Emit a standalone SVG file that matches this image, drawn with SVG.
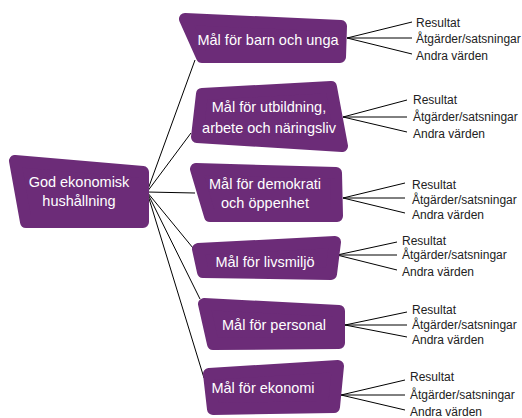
<svg xmlns="http://www.w3.org/2000/svg" width="522" height="418" viewBox="0 0 522 418">
<style>
.box{fill:#6c2c78;stroke:#6c2c78;stroke-width:12;stroke-linejoin:round}
.nt{font-family:"Liberation Sans",Arial,sans-serif;font-size:14.5px;fill:#ffffff;text-anchor:middle}
.lt{font-family:"Liberation Sans",Arial,sans-serif;font-size:12px;fill:#222222}
.con line{stroke:#000000;stroke-width:1;fill:none}
</style>
<rect width="522" height="418" fill="#ffffff"/>
<g id="connectors" class="con">
<line x1="147" y1="192" x2="195" y2="60"/>
<line x1="147" y1="192" x2="191" y2="133"/>
<line x1="147" y1="192" x2="195" y2="193"/>
<line x1="147" y1="192" x2="193" y2="248"/>
<line x1="147" y1="192" x2="200" y2="299"/>
<line x1="147" y1="192" x2="204" y2="378"/>
<line x1="347" y1="38" x2="412" y2="22"/>
<line x1="347" y1="38" x2="412" y2="38"/>
<line x1="347" y1="38" x2="412" y2="54"/>
<line x1="343" y1="117" x2="407" y2="100"/>
<line x1="343" y1="117" x2="407" y2="117"/>
<line x1="343" y1="117" x2="407" y2="132"/>
<line x1="343" y1="198" x2="405" y2="183"/>
<line x1="343" y1="198" x2="405" y2="198"/>
<line x1="343" y1="198" x2="405" y2="213"/>
<line x1="337" y1="255" x2="397" y2="242"/>
<line x1="337" y1="255" x2="397" y2="255"/>
<line x1="337" y1="255" x2="397" y2="270"/>
<line x1="345" y1="325" x2="407" y2="312"/>
<line x1="345" y1="325" x2="407" y2="325"/>
<line x1="345" y1="325" x2="407" y2="337"/>
<line x1="341" y1="395" x2="405" y2="380"/>
<line x1="341" y1="395" x2="405" y2="395"/>
<line x1="341" y1="395" x2="405" y2="410"/>
</g>
<g id="root">
<polygon class="box" points="15,161 143,172 143,222 26,222"/>
<text class="nt" x="79" y="187">God ekonomisk</text>
<text class="nt" x="79" y="206">hushållning</text>
</g>
<g id="n1">
<polygon class="box" points="185,19 341,26 340,57 202,57"/>
<text class="nt" x="268" y="45">Mål för barn och unga</text>
<text class="lt" x="416" y="27">Resultat</text>
<text class="lt" x="416" y="43">Åtgärder/satsningar</text>
<text class="lt" x="416" y="60">Andra värden</text>
</g>
<g id="n2">
<polygon class="box" points="202,94 331,87 342,146 197,137"/>
<text class="nt" x="269" y="112">Mål för utbildning,</text>
<text class="nt" x="269" y="133">arbete och näringsliv</text>
<text class="lt" x="413" y="104">Resultat</text>
<text class="lt" x="413" y="121">Åtgärder/satsningar</text>
<text class="lt" x="413" y="138">Andra värden</text>
</g>
<g id="n3">
<polygon class="box" points="196,169 336,173 337,216 210,216"/>
<text class="nt" x="265" y="189">Mål för demokrati</text>
<text class="nt" x="265" y="208">och öppenhet</text>
<text class="lt" x="412" y="189">Resultat</text>
<text class="lt" x="412" y="204">Åtgärder/satsningar</text>
<text class="lt" x="412" y="219">Andra värden</text>
</g>
<g id="n4">
<polygon class="box" points="198,249 335,242 331,274 203,272"/>
<text class="nt" x="265" y="267">Mål för livsmiljö</text>
<text class="lt" x="402" y="245">Resultat</text>
<text class="lt" x="402" y="259">Åtgärder/satsningar</text>
<text class="lt" x="402" y="276">Andra värden</text>
</g>
<g id="n5">
<polygon class="box" points="204,304 339,311 339,343 213,344"/>
<text class="nt" x="274" y="330">Mål för personal</text>
<text class="lt" x="412" y="314">Resultat</text>
<text class="lt" x="412" y="329">Åtgärder/satsningar</text>
<text class="lt" x="412" y="344">Andra värden</text>
</g>
<g id="n6">
<polygon class="box" points="209,374 338,366 334,407 213,409"/>
<text class="nt" x="263" y="393">Mål för ekonomi</text>
<text class="lt" x="410" y="381">Resultat</text>
<text class="lt" x="410" y="399">Åtgärder/satsningar</text>
<text class="lt" x="410" y="416">Andra värden</text>
</g>
</svg>
